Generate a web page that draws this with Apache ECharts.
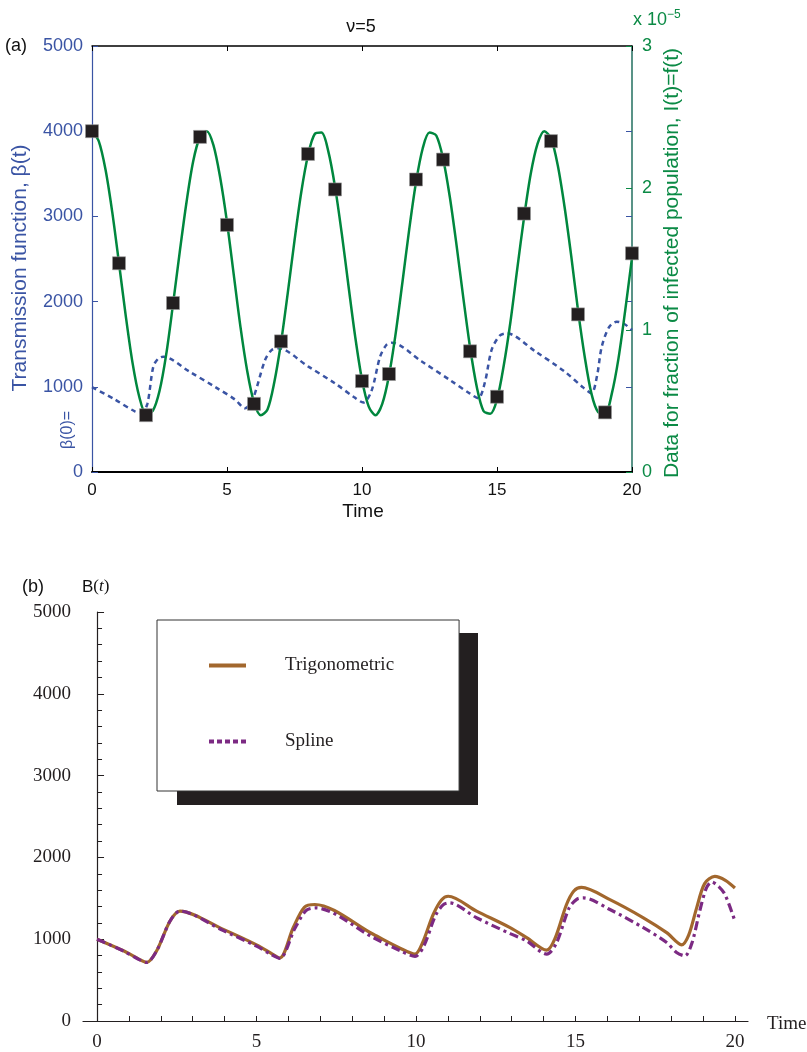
<!DOCTYPE html>
<html>
<head>
<meta charset="utf-8">
<script src="https://cdn.jsdelivr.net/npm/echarts/dist/echarts.min.js"></script>
<style>
  html, body { margin: 0; padding: 0; background: #fff; }
  #chartDom { width: 807px; height: 1052px; }
</style>
</head>
<body>
<div id="chartDom"></div>
<script>
// (a) data for fraction of infected population, units of 1e-5
const dataTime = [0, 1, 2, 3, 4, 5, 6, 7, 8, 9, 10, 11, 12, 13, 14, 15, 16, 17, 18, 19, 20];
const dataValue = [2.40, 1.47, 0.40, 1.19, 2.36, 1.74, 0.48, 0.92, 2.24, 1.99, 0.64, 0.69, 2.06, 2.20, 0.85, 0.53, 1.82, 2.33, 1.11, 0.42, 1.54];

// (a) fitted I(t), units of 1e-5, read every 0.25 time units
const fitTime = [0, 0.25, 0.5, 0.75, 1, 1.25, 1.5, 1.75, 2, 2.25, 2.5, 2.75, 3, 3.25, 3.5, 3.75,
  4, 4.25, 4.5, 4.75, 5, 5.25, 5.5, 5.75, 6, 6.25, 6.5, 6.75, 7, 7.25, 7.5, 7.75,
  8, 8.25, 8.5, 8.75, 9, 9.25, 9.5, 9.75, 10, 10.25, 10.5, 10.75, 11, 11.25, 11.5, 11.75,
  12, 12.25, 12.5, 12.75, 13, 13.25, 13.5, 13.75, 14, 14.25, 14.5, 14.75, 15, 15.25, 15.5, 15.75,
  16, 16.25, 16.5, 16.75, 17, 17.25, 17.5, 17.75, 18, 18.25, 18.5, 18.75, 19, 19.25, 19.5, 19.75, 20];
const fitValue = [2.40, 2.33, 2.13, 1.83, 1.47, 1.10, 0.77, 0.53, 0.41, 0.43, 0.57, 0.83, 1.18, 1.55, 1.90, 2.19,
  2.36, 2.40, 2.30, 2.07, 1.76, 1.39, 1.02, 0.71, 0.49, 0.40, 0.44, 0.63, 0.91, 1.26, 1.63, 1.97,
  2.23, 2.38, 2.39, 2.26, 2.01, 1.68, 1.31, 0.95, 0.65, 0.46, 0.40, 0.48, 0.68, 0.98, 1.34, 1.71,
  2.04, 2.28, 2.39, 2.37, 2.21, 1.94, 1.60, 1.23, 0.88, 0.60, 0.43, 0.41, 0.51, 0.75, 1.06, 1.43,
  1.79, 2.10, 2.31, 2.40, 2.35, 2.16, 1.87, 1.52, 1.14, 0.81, 0.55, 0.42, 0.41, 0.55, 0.80, 1.14, 1.51];

// (a) transmission function beta(t)
const betaTime = [0, 0.8, 1.6, 1.85, 2.05, 2.27, 2.45, 2.64, 3.6, 4.6, 5.3, 5.67, 5.95, 6.41, 6.65, 6.9, 8.0, 9.0, 9.7, 10.05,
  10.35, 10.67, 10.9, 11.1, 12.2, 13.3, 14.0, 14.31, 14.55, 14.8, 15.1, 15.36, 16.4, 17.5, 18.2, 18.5, 18.7, 18.88, 19.15, 19.43, 19.7, 20];
const betaValue = [995, 860, 710, 700, 800, 1236, 1330, 1353, 1180, 990, 850, 747, 850, 1315, 1430, 1452, 1240, 1040, 880, 815,
  950, 1353, 1490, 1518, 1300, 1070, 920, 865, 1050, 1432, 1600, 1628, 1420, 1180, 990, 924, 1120, 1471, 1700, 1764, 1740, 1667];

// (b) B(t)
const trigTime = [0, 0.83, 1.3, 1.56, 1.87, 2.29, 2.6, 3.96, 5.0, 5.45, 5.73, 6.15, 6.5, 6.83, 8.66, 9.5, 9.97, 10.2, 10.54, 10.8,
  11.01, 11.9, 12.95, 13.47, 14.1, 14.35, 14.72, 14.95, 15.19, 16.08, 17.13, 17.86, 18.33, 18.55, 18.8, 19.05, 19.37, 19.7, 20];
const trigValue = [1000, 858, 760, 716, 858, 1222, 1343, 1120, 931, 830, 770, 1140, 1390, 1424, 1060, 890, 817, 950, 1302, 1480,
  1525, 1343, 1141, 1019, 866, 1000, 1424, 1590, 1634, 1484, 1262, 1080, 931, 1050, 1383, 1680, 1768, 1720, 1626];

const splineTime = [0, 0.83, 1.3, 1.56, 1.87, 2.29, 2.6, 3.96, 5.0, 5.45, 5.73, 6.2, 6.55, 6.85, 8.66, 9.5, 9.97, 10.25, 10.6, 10.85,
  11.05, 11.9, 12.95, 13.47, 14.1, 14.4, 14.8, 15.05, 15.25, 16.08, 17.13, 17.86, 18.17, 18.43, 18.65, 18.9, 19.1, 19.27, 19.5, 19.69, 20];
const splineValue = [1000, 855, 755, 716, 858, 1222, 1343, 1105, 915, 815, 765, 1130, 1350, 1383, 1020, 860, 790, 920, 1280, 1420,
  1444, 1262, 1068, 979, 817, 950, 1380, 1490, 1505, 1363, 1141, 959, 837, 797, 950, 1350, 1620, 1699, 1640, 1545, 1222];

const bTicks = [0, 1, 2, 3, 4, 5, 6, 7, 8, 9, 10, 11, 12, 13, 14, 15, 16, 17, 18, 19, 20];
const bLabels = [0, 5, 10, 15, 20];

const zip = (a, b) => a.map((t, i) => [t, b[i]]);
const plain = (v) => String(v);

const BLUE = "#3a54a4";
const GREEN = "#0b8a45";
const TEAL = "#226f5f";
const SANS = "Liberation Sans";
const SERIF = "Liberation Serif";

let myChart = echarts.init(document.getElementById("chartDom"));
const option = {
  animation: false,
  backgroundColor: "#fff",
  grid: [
    { left: 92, top: 46, width: 540, height: 426 },
    { left: 83, top: 612, width: 665, height: 412 },
  ],
  legend: {
    data: [
      { name: "Trigonometric", lineStyle: { width: 4 } },
      { name: "Spline", lineStyle: { width: 4, type: [5, 3] } },
    ],
    orient: "vertical",
    left: 157,
    top: 620,
    z: 6,
    selectedMode: false,
    itemWidth: 37,
    itemHeight: 14,
    itemGap: 57,
    padding: [36, 65, 40, 50],
    backgroundColor: "#fff",
    borderColor: "#333",
    borderWidth: 1,
    itemStyle: { color: "rgba(0,0,0,0)", borderWidth: 0, opacity: 0 },
    textStyle: { fontFamily: SERIF, fontSize: 19, color: "#231f20", padding: [0, 0, 0, 34] },
  },
  xAxis: [
    {
      gridIndex: 0, type: "value", position: "bottom", min: 0, max: 20, interval: 5,
      axisLine: { onZero: false, lineStyle: { color: "#000", width: 2 } },
      axisTick: { inside: true, length: 5, lineStyle: { color: "#000" } },
      axisLabel: { margin: 10, color: "#111", fontSize: 17, fontFamily: SANS, formatter: plain },
      splitLine: { show: false },
    },
    {
      gridIndex: 0, type: "value", position: "top", min: 0, max: 20, interval: 5,
      axisLine: { onZero: false, lineStyle: { color: "#000", width: 1.5 } },
      axisTick: { inside: true, length: 5, lineStyle: { color: "#000" } },
      axisLabel: { show: false },
      splitLine: { show: false },
    },
    {
      gridIndex: 1, type: "value", position: "bottom", min: -0.44, max: 20.41,
      axisLine: { onZero: false, lineStyle: { color: "#231f20", width: 1.2 } },
      axisTick: { inside: true, length: 5, customValues: bTicks, lineStyle: { color: "#231f20" } },
      axisLabel: { margin: 12, color: "#231f20", fontSize: 19, fontFamily: SERIF, customValues: bLabels, formatter: plain },
      splitLine: { show: false },
    },
  ],
  yAxis: [
    {
      gridIndex: 0, type: "value", position: "left", min: 0, max: 5000, interval: 1000,
      axisLine: { show: true, onZero: false, lineStyle: { color: BLUE, width: 1.2 } },
      axisTick: { show: true, inside: true, length: 6, lineStyle: { color: BLUE } },
      axisLabel: { margin: 9, color: BLUE, fontSize: 18, fontFamily: SANS, formatter: plain },
      splitLine: { show: false },
    },
    {
      gridIndex: 0, type: "value", position: "right", min: 0, max: 5000, interval: 1000,
      axisLine: { show: false, onZero: false },
      axisTick: { show: true, inside: true, length: 6, lineStyle: { color: BLUE } },
      axisLabel: { show: false },
      splitLine: { show: false },
    },
    {
      gridIndex: 0, type: "value", position: "right", min: 0, max: 3, interval: 1,
      axisLine: { show: true, onZero: false, lineStyle: { color: TEAL, width: 1.5 } },
      axisTick: { show: true, inside: true, length: 6, lineStyle: { color: GREEN } },
      axisLabel: { margin: 10, color: GREEN, fontSize: 18, fontFamily: SANS, formatter: plain },
      splitLine: { show: false },
    },
    {
      gridIndex: 1, type: "value", position: "left", min: 0, max: 5000, interval: 1000,
      axisLine: { show: true, onZero: true, lineStyle: { color: "#231f20", width: 1.2 } },
      axisTick: { show: true, inside: true, length: 7, lineStyle: { color: "#231f20" } },
      minorTick: { show: true, splitNumber: 5, length: 5, lineStyle: { color: "#231f20" } },
      axisLabel: { margin: 12, color: "#231f20", fontSize: 19, fontFamily: SERIF, formatter: plain },
      splitLine: { show: false },
    },
  ],
  series: [
    {
      name: "beta", type: "line", xAxisIndex: 0, yAxisIndex: 0,
      data: zip(betaTime, betaValue), smooth: 0.3, symbol: "none",
      lineStyle: { color: BLUE, width: 2.5, type: [5, 4] },
    },
    {
      name: "fit", type: "line", xAxisIndex: 0, yAxisIndex: 2,
      data: zip(fitTime, fitValue), smooth: 0.3, symbol: "none",
      lineStyle: { color: "#00873e", width: 2.5 },
    },
    {
      name: "data", type: "scatter", xAxisIndex: 0, yAxisIndex: 2,
      data: zip(dataTime, dataValue), symbol: "rect", symbolSize: 13, z: 5,
      itemStyle: { color: "#231f20", opacity: 1, borderColor: "#999", borderWidth: 0.6 },
    },
    {
      name: "Trigonometric", type: "line", xAxisIndex: 2, yAxisIndex: 3,
      data: zip(trigTime, trigValue), smooth: 0.3, symbol: "none",
      itemStyle: { color: "#a2672d" },
      lineStyle: { color: "#a2672d", width: 3.2 },
    },
    {
      name: "Spline", type: "line", xAxisIndex: 2, yAxisIndex: 3,
      data: zip(splineTime, splineValue), smooth: 0.3, symbol: "none",
      itemStyle: { color: "#7c2a83" },
      lineStyle: { color: "#7c2a83", width: 3.2, type: [9, 4, 3, 4] },
    },
  ],
  graphic: [
    // legend drop shadow
    { type: "rect", z: 1, shape: { x: 177, y: 633, width: 301, height: 172 }, style: { fill: "#231f20" } },
    { type: "text", x: 5, y: 46, style: { text: "(a)", font: "18px " + SANS, fill: "#111", verticalAlign: "middle" } },
    { type: "text", x: 361, y: 27, style: { text: "ν=5", font: "18px " + SANS, fill: "#111", align: "center", verticalAlign: "middle" } },
    { type: "text", x: 20, y: 268, rotation: Math.PI / 2,
      style: { text: "Transmission function, β(t)", font: "21px " + SANS, fill: BLUE, align: "center", verticalAlign: "middle" } },
    { type: "text", x: 68, y: 430, rotation: Math.PI / 2,
      style: { text: "β(0)=", font: "16px " + SANS, fill: BLUE, align: "center", verticalAlign: "middle" } },
    { type: "text", x: 672, y: 263, rotation: Math.PI / 2,
      style: { text: "Data for fraction of infected population, I(t)=f(t)", font: "21px " + SANS, fill: GREEN, align: "center", verticalAlign: "middle" } },
    { type: "text", x: 633, y: 20,
      style: {
        text: "{a|x 10}{s|−5}", verticalAlign: "middle",
        rich: {
          a: { fontFamily: SANS, fontSize: 18, fill: GREEN },
          s: { fontFamily: SANS, fontSize: 12, fill: GREEN, verticalAlign: "top", padding: [0, 0, 10, 0] },
        },
      } },
    { type: "text", x: 363, y: 512, style: { text: "Time", font: "19px " + SANS, fill: "#111", align: "center", verticalAlign: "middle" } },
    { type: "text", x: 22, y: 587, style: { text: "(b)", font: "18px " + SANS, fill: "#111", verticalAlign: "middle" } },
    { type: "text", x: 82, y: 587,
      style: {
        text: "{b|B}{p|(}{i|t}{p|)}", verticalAlign: "middle",
        rich: {
          b: { fontFamily: SANS, fontSize: 17, fill: "#111" },
          p: { fontFamily: SERIF, fontSize: 17, fill: "#111" },
          i: { fontFamily: SERIF, fontSize: 17, fontStyle: "italic", fill: "#111" },
        },
      } },
    { type: "text", x: 767, y: 1024, style: { text: "Time", font: "19px " + SERIF, fill: "#231f20", verticalAlign: "middle" } },
  ],
};

option && myChart.setOption(option);
</script>
</body>
</html>
